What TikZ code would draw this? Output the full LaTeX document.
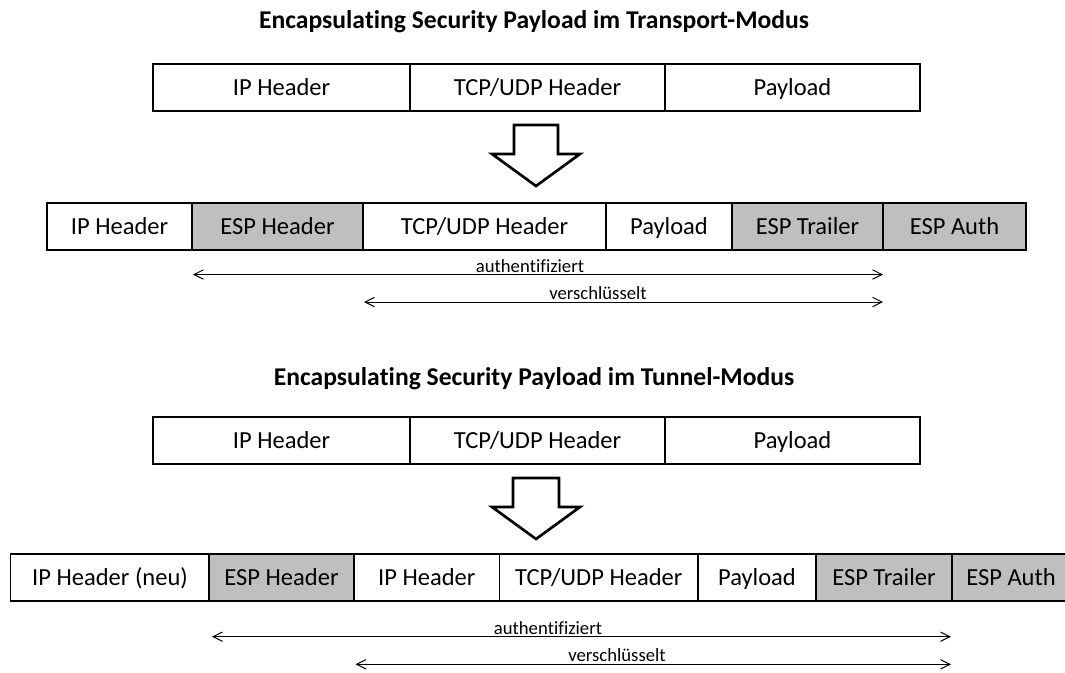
\documentclass[tikz,border=0pt]{standalone}
\usepackage{fontspec}
\setmainfont{Carlito}[Ligatures=CommonOff]
\usetikzlibrary{arrows.meta,calc}
\definecolor{espgray}{RGB}{191,191,191}
\begin{document}
\begin{tikzpicture}[x=0.75pt,y=-0.75pt,
  cell/.style={draw=black, line width=1.1pt, minimum height={47*0.75pt}, inner sep=0pt, outer sep=0pt,
    text height=14pt, text depth=1.5pt, font=\fontsize{18.4}{22}\selectfont},
  esp/.style={cell, fill=espgray},
  wpx/.style={minimum width={#1*0.75pt}},
  ttl/.style={font=\bfseries\fontsize{19.2}{23}\selectfont, inner sep=0pt},
  lbl/.style={font=\fontsize{14}{16}\selectfont, inner sep=0pt, anchor=base},
  dim/.style={{Straight Barb[length=7pt,width=7pt]}-{Straight Barb[length=7pt,width=7pt]}, line width=0.75pt},
  bigarrow/.style={draw=black, line width=2pt, fill=white, line join=miter}
]
\useasboundingbox (0,0) rectangle (1065,672);
\clip (0,0) rectangle (1065,672);

% ---------- Transport mode ----------
\node[ttl] (t1) at (534,22) {Encapsula\kern0pt ting Security Payload im Transport-Modus};

\node[cell, wpx=257] (ip1)  at (281.5,87.5) {IP Header};
\node[cell, wpx=255] (tcp1) at (537.5,87.5) {TCP/UDP Header};
\node[cell, wpx=255] (pl1)  at (792.5,87.5) {Payload};

\draw[bigarrow] (514,125) -- (558,125) -- (558,154) -- (580,154) -- (536,186) -- (492,154) -- (514,154) -- cycle;

\node[cell, wpx=145] (ip2)  at (119.5,226.5) {IP Header};
\node[esp,  wpx=171] (eh2)  at (277.5,226.5) {ESP Header};
\node[cell, wpx=243] (tcp2) at (484.5,226.5) {TCP/UDP Header};
\node[cell, wpx=126] (pl2)  at (669,226.5) {Payload};
\node[esp,  wpx=151] (et2)  at (807.5,226.5) {ESP Trailer};
\node[esp,  wpx=143] (ea2)  at (954.5,226.5) {ESP Auth};

\coordinate (a1l) at ($(eh2.south west)+(1,24.5)$);
\coordinate (a1r) at ($(et2.south east)+(0,24.5)$);
\coordinate (v1l) at ($(tcp2.south west)+(1,52)$);
\coordinate (v1r) at ($(et2.south east)+(0,52)$);
\draw[dim] (a1l) -- (a1r);
\draw[dim] (v1l) -- (v1r);
\node[lbl] (la1) at (530,272) {authen\kern0pt tif\kern0pt iziert};
\node[lbl] (lv1) at (598,299.5) {verschlüsselt};

% ---------- Tunnel mode ----------
\node[ttl] (t2) at (534,379) {Encapsula\kern0pt ting Security Payload im Tunnel-Modus};

\node[cell, wpx=257] (ip3)  at (281.5,440.5) {IP Header};
\node[cell, wpx=255] (tcp3) at (537.5,440.5) {TCP/UDP Header};
\node[cell, wpx=255] (pl3)  at (792.5,440.5) {Payload};

\draw[bigarrow] (513,478) -- (559,478) -- (559,507) -- (580,507) -- (536,539) -- (492,507) -- (513,507) -- cycle;

\node[cell, wpx=198.5] (ipn4) at (110,577.5) {IP Header (neu)};
\node[esp,  wpx=145]   (eh4)  at (281.5,577.5) {ESP Header};
\node[cell, wpx=145.5] (ip4)  at (426.75,577.5) {IP Header};
\node[cell, wpx=198.5] (tcp4) at (598.75,577.5) {TCP/UDP Header};
\node[cell, wpx=118]   (pl4)  at (757,577.5) {Payload};
\node[esp,  wpx=136]   (et4)  at (884,577.5) {ESP Trailer};
\node[esp,  wpx=118]   (ea4)  at (1011,577.5) {ESP Auth};

\coordinate (a2l) at ($(eh4.south west)+(3,35.7)$);
\coordinate (a2r) at ($(et4.south east)+(-1,35.7)$);
\coordinate (v2l) at ($(ip4.south west)+(1.5,63.3)$);
\coordinate (v2r) at ($(et4.south east)+(-1,63.3)$);
\draw[dim] (a2l) -- (a2r);
\draw[dim] (v2l) -- (v2r);
\node[lbl] (la2) at (548,634) {authen\kern0pt tif\kern0pt iziert};
\node[lbl] (lv2) at (617,661.5) {verschlüsselt};
\end{tikzpicture}
\end{document}
